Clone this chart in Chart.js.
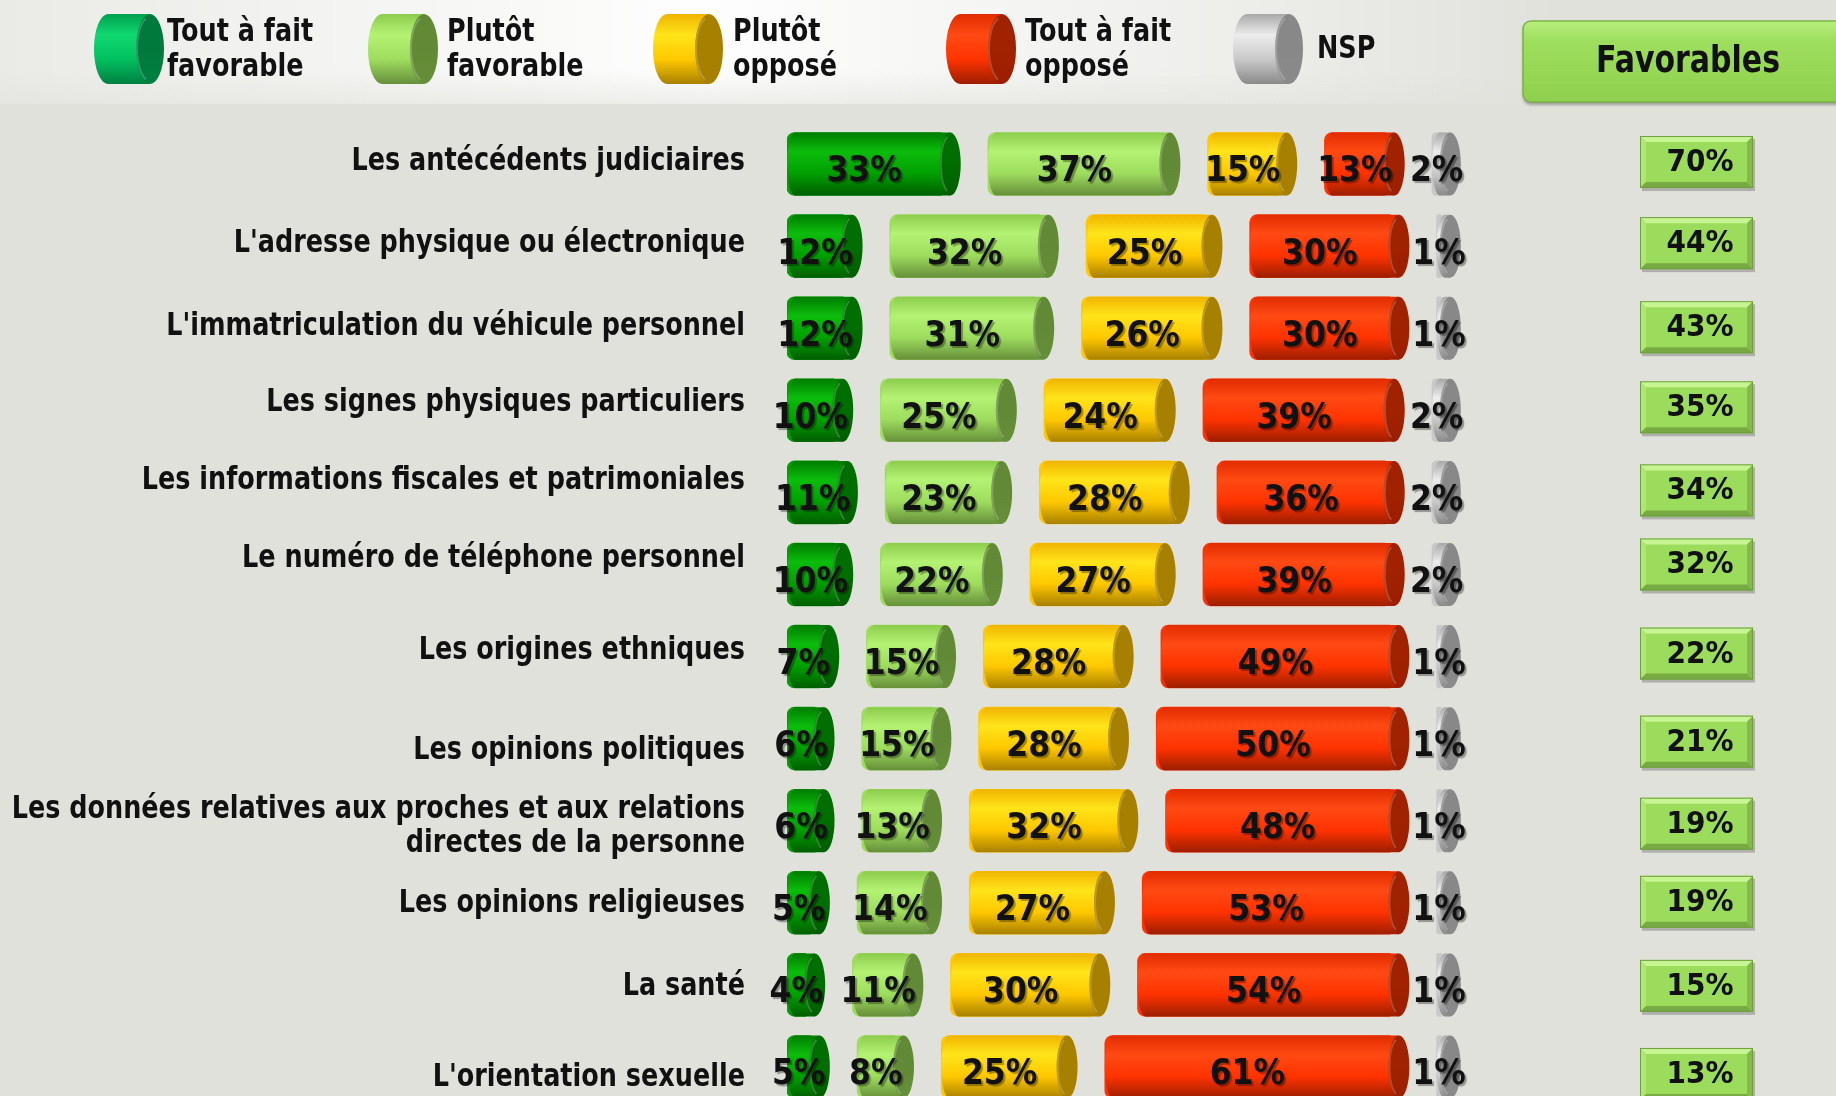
<!DOCTYPE html>
<html lang="fr">
<head>
<meta charset="utf-8">
<title>Données personnelles - favorables / opposés</title>
<script src="https://cdn.jsdelivr.net/npm/chart.js@4.4.1/dist/chart.umd.min.js"></script>
<style>
    html, body { margin: 0; padding: 0; overflow: hidden; background: #e1e1dc; }
    #zone { position: relative; width: 1836px; height: 1112px; }
</style>
</head>
<body>
<div id="zone"><canvas id="grafico-donnees"></canvas></div>
<script>
// données
const categories = [
    ["Les antécédents judiciaires"],
    ["L'adresse physique ou électronique"],
    ["L'immatriculation du véhicule personnel"],
    ["Les signes physiques particuliers"],
    ["Les informations fiscales et patrimoniales"],
    ["Le numéro de téléphone personnel"],
    ["Les origines ethniques"],
    ["Les opinions politiques"],
    ["Les données relatives aux proches et aux relations", "directes de la personne"],
    ["Les opinions religieuses"],
    ["La santé"],
    ["L'orientation sexuelle"]
];
const toutFavorable = [33, 12, 12, 10, 11, 10, 7, 6, 6, 5, 4, 5];
const plutotFavorable = [37, 32, 31, 25, 23, 22, 15, 15, 13, 14, 11, 8];
const plutotOppose = [15, 25, 26, 24, 28, 27, 28, 28, 32, 27, 30, 25];
const toutOppose = [13, 30, 30, 39, 36, 39, 49, 50, 48, 53, 54, 61];
const nsp = [2, 1, 1, 2, 2, 2, 1, 1, 1, 1, 1, 1];
const favorables = [70, 44, 43, 35, 34, 32, 22, 21, 19, 19, 15, 13];
const seriesNames = [["Tout à fait", "favorable"], ["Plutôt", "favorable"], ["Plutôt", "opposé"], ["Tout à fait", "opposé"], ["NSP"]];

// mise en page (pixels)
const ECART = 10;           // espace entre les cylindres, en points de %
const LABEL_DY = [-2, -2, -1, -8, -12, -16, -6, 12, 6, 1, 2, 11];
const BOX_DY = [-2, -3, -1, -3, -2, -10, -3, 3, 3, -1, 1, 7];
const LEGEND_ICON_X = [94, 368, 653, 946, 1233];
const LEGEND_TEXT_X = [167, 447, 733, 1025, 1317];

// couleurs : bord haut, reflet, milieu, bas, face
const barColors = [
    ['#007c00', '#0cbc0c', '#00a000', '#005e00', '#006e00'],
    ['#8ccc4c', '#b4f274', '#9edc5e', '#668f3a', '#628a36'],
    ['#efb400', '#ffe41a', '#ffc800', '#a88000', '#a88000'],
    ['#e02c00', '#ff4a14', '#ff3300', '#9c1e00', '#a02200'],
    ['#a8a8a8', '#ececec', '#c8c8c8', '#8a8a8a', '#888888']
];
const legendColors = [
    ['#00a050', '#10d870', '#00c060', '#008040', '#007a3c'],
    barColors[1], barColors[2], barColors[3], barColors[4]
];
const seriesData = [toutFavorable, plutotFavorable, plutotOppose, toutOppose, nsp];

function texte(ctx, txt, x, y, size, sy, align) {
    ctx.save();
    ctx.translate(x, y);
    ctx.scale(1, sy);
    ctx.font = 'bold ' + size + 'px "DejaVu Sans"';
    ctx.textAlign = align;
    ctx.textBaseline = 'middle';
    ctx.fillText(txt, 0, 0);
    ctx.restore();
}

// cylindre couché : bord gauche arrondi, face elliptique à droite
function cylindre(ctx, x0, xc, yc, h, c, rl, rc) {
    const top = yc - h / 2;
    rl = Math.max(1, Math.min(rl, xc - x0));
    ctx.save();
    const g = ctx.createLinearGradient(0, top, 0, top + h);
    g.addColorStop(0, c[0]);
    g.addColorStop(0.3, c[1]);
    g.addColorStop(0.65, c[2]);
    g.addColorStop(1, c[3]);
    ctx.fillStyle = g;
    ctx.beginPath();
    ctx.ellipse(x0 + rl, yc, rl, h / 2, 0, Math.PI / 2, Math.PI * 1.5);
    ctx.lineTo(xc, top);
    ctx.lineTo(xc, top + h);
    ctx.closePath();
    ctx.fill();

    const gf = ctx.createLinearGradient(0, top, 0, top + h);
    gf.addColorStop(0, c[4]);
    gf.addColorStop(0.5, c[4]);
    gf.addColorStop(1, c[3]);
    ctx.fillStyle = gf;
    ctx.beginPath();
    ctx.ellipse(xc, yc, rc, h / 2, 0, 0, Math.PI * 2);
    ctx.fill();
    // liseré clair sur le bord de la face
    ctx.strokeStyle = 'rgba(255,255,255,0.2)';
    ctx.lineWidth = 2;
    ctx.beginPath();
    ctx.ellipse(xc, yc, rc - 1, h / 2 - 3, 0, Math.PI * 0.6, Math.PI * 1.4);
    ctx.stroke();
    ctx.restore();
}

function boiteBiseau(ctx, x, y, w, h) {
    const b = 6;
    ctx.save();
    ctx.fillStyle = 'rgba(0,0,0,0.22)';
    ctx.fillRect(x + 2, y + 3, w, h);
    ctx.fillStyle = '#9cdc5c';
    ctx.fillRect(x, y, w, h);
    const faces = [
        ['#c8f594', [[x, y], [x + w, y], [x + w - b, y + b], [x + b, y + b]]],
        ['#aee674', [[x, y], [x + b, y + b], [x + b, y + h - b], [x, y + h]]],
        ['#78aa44', [[x, y + h], [x + b, y + h - b], [x + w - b, y + h - b], [x + w, y + h]]],
        ['#86b84e', [[x + w, y], [x + w - b, y + b], [x + w - b, y + h - b], [x + w, y + h]]]
    ];
    faces.forEach(([col, pts]) => {
        ctx.fillStyle = col;
        ctx.beginPath();
        pts.forEach((p, i) => i ? ctx.lineTo(p[0], p[1]) : ctx.moveTo(p[0], p[1]));
        ctx.closePath();
        ctx.fill();
    });
    ctx.strokeStyle = '#6e9e40';
    ctx.lineWidth = 1;
    ctx.strokeRect(x + 0.5, y + 0.5, w - 1, h - 1);
    ctx.restore();
}

const decor = {
    id: 'decor',
    beforeDraw(chart) {
        const ctx = chart.ctx;
        ctx.save();
        ctx.fillStyle = '#e1e1dc';
        ctx.fillRect(0, 0, chart.width, chart.height);

        // halo clair derrière la légende
        const gh = ctx.createLinearGradient(0, 0, 1560, 0);
        gh.addColorStop(0, 'rgba(255,255,255,0.3)');
        gh.addColorStop(0.45, 'rgba(255,255,255,0.97)');
        gh.addColorStop(0.8, 'rgba(255,255,255,0.4)');
        gh.addColorStop(1, 'rgba(255,255,255,0)');
        ctx.fillStyle = gh;
        ctx.fillRect(0, 0, 1560, 104);
        const gv = ctx.createLinearGradient(0, 70, 0, 106);
        gv.addColorStop(0, 'rgba(225,225,220,0)');
        gv.addColorStop(1, 'rgba(225,225,220,0.6)');
        ctx.fillStyle = gv;
        ctx.fillRect(0, 70, 1560, 36);

        // légende
        seriesNames.forEach((lines, i) => {
            cylindre(ctx, LEGEND_ICON_X[i], LEGEND_ICON_X[i] + 56, 49, 70, legendColors[i], 14, 14);
            ctx.fillStyle = '#111';
            if (lines.length === 2) {
                texte(ctx, lines[0], LEGEND_TEXT_X[i], 33, 25.5, 1.25, 'left');
                texte(ctx, lines[1], LEGEND_TEXT_X[i], 68, 25.5, 1.25, 'left');
            } else {
                texte(ctx, lines[0], LEGEND_TEXT_X[i], 50, 25.5, 1.25, 'left');
            }
        });

        // en-tête "Favorables"
        ctx.save();
        ctx.shadowColor = 'rgba(0,0,0,0.3)';
        ctx.shadowOffsetY = 3;
        ctx.shadowBlur = 3;
        const gb = ctx.createLinearGradient(0, 21, 0, 102);
        gb.addColorStop(0, '#b6ee7c');
        gb.addColorStop(0.25, '#9ede5e');
        gb.addColorStop(1, '#8ed04e');
        ctx.fillStyle = gb;
        ctx.beginPath();
        ctx.roundRect(1523, 21, 340, 81, 8);
        ctx.fill();
        ctx.restore();
        ctx.strokeStyle = '#7cb244';
        ctx.lineWidth = 1.5;
        ctx.beginPath();
        ctx.roundRect(1523, 21, 340, 81, 8);
        ctx.stroke();
        ctx.fillStyle = '#111';
        texte(ctx, 'Favorables', 1688, 62, 30, 1.25, 'center');
        ctx.restore();
    },
    afterDatasetsDraw(chart) {
        const ctx = chart.ctx;
        const yScale = chart.scales.y;
        const etiquettes = [];

        seriesData.forEach((serie, s) => {
            const meta = chart.getDatasetMeta(s * 2);
            meta.data.forEach((bar, i) => {
                const p = bar.getProps(['x', 'y', 'base', 'height'], true);
                const x0 = Math.min(p.base, p.x);
                const x1 = Math.max(p.base, p.x);
                cylindre(ctx, x0, x1 + 9, p.y, p.height, barColors[s], 8, 10.5);
                etiquettes.push([serie[i] + '%', (x0 + x1) / 2, p.y + 8]);
            });
        });

        ctx.save();
        ctx.fillStyle = '#111';
        ctx.shadowColor = 'rgba(0,0,0,0.35)';
        ctx.shadowOffsetX = 2;
        ctx.shadowOffsetY = 2;
        ctx.shadowBlur = 1;
        etiquettes.forEach(([t, x, y]) => texte(ctx, t, x, y, 31.5, 1.15, 'center'));
        ctx.restore();

        // libellés des catégories et colonne "Favorables"
        ctx.save();
        categories.forEach((lines, i) => {
            const yc = yScale.getPixelForValue(i);
            ctx.fillStyle = '#111';
            if (lines.length === 2) {
                texte(ctx, lines[0], 745, yc + LABEL_DY[i] - 17, 25.5, 1.25, 'right');
                texte(ctx, lines[1], 745, yc + LABEL_DY[i] + 17, 25.5, 1.25, 'right');
            } else {
                texte(ctx, lines[0], 745, yc + LABEL_DY[i], 25.5, 1.25, 'right');
            }
            const by = yc + BOX_DY[i];
            boiteBiseau(ctx, 1640, by - 26, 113, 52);
            ctx.fillStyle = '#111';
            texte(ctx, favorables[i] + '%', 1700, by + 1, 28, 1.1, 'center');
        });
        ctx.restore();
    }
};

function construireDatasets() {
    const datasets = [];
    seriesData.forEach((serie, s) => {
        datasets.push({
            label: seriesNames[s].join(' '),
            data: serie,
            backgroundColor: barColors[s][2],
            borderSkipped: false,
            borderRadius: { topLeft: 8, bottomLeft: 8, topRight: 0, bottomRight: 0 },
            barThickness: 63
        });
        if (s < seriesData.length - 1) {
            datasets.push({
                label: 'ecart' + s,
                data: categories.map(() => ECART),
                backgroundColor: 'rgba(0,0,0,0)',
                barThickness: 63
            });
        }
    });
    return datasets;
}

const ctx = document.getElementById('grafico-donnees').getContext('2d');
const graficoDonnees = new Chart(ctx, {
    type: 'bar',
    data: {
        labels: categories.map(l => l.join(' ')),
        datasets: construireDatasets()
    },
    options: {
        indexAxis: 'y',
        responsive: true,
        maintainAspectRatio: false,
        animation: false,
        layout: { padding: { left: 787, right: 376, top: 123, bottom: 4 } },
        plugins: {
            legend: { display: false },
            tooltip: { enabled: false }
        },
        scales: {
            x: { stacked: true, min: 0, max: 144, display: false },
            y: { stacked: true, display: false }
        }
    },
    plugins: [decor]
});
</script>
</body>
</html>
